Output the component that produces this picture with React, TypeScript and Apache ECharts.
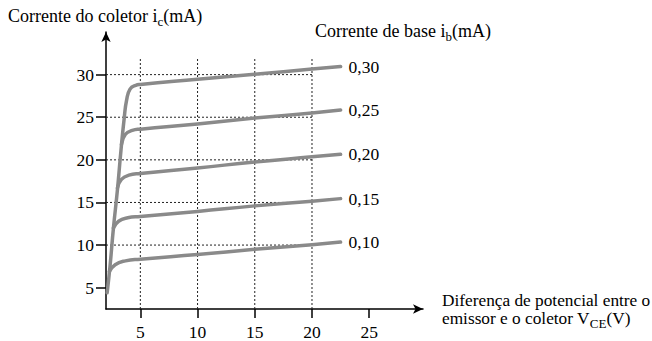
import React, { useEffect, useRef } from "react";
import * as echarts from "echarts";

const xTicks = [5, 10, 15, 20, 25];
const yTicks = [5, 10, 15, 20, 25, 30];
const hGrid = [10, 15, 20, 25, 30];
const vGrid = [5, 10, 15, 20];

const seriesNames = ["0,30", "0,25", "0,20", "0,15", "0,10"];
const curve030 = [[2.1, 4.4], [2.35, 7.5], [2.65, 12], [3.0, 16.5], [3.3, 21], [3.6, 25], [3.8, 27], [4.1, 28.3], [4.6, 28.75], [5, 28.85], [10, 29.45], [15, 30.05], [20, 30.65], [22.5, 30.95]];
const curve025 = [[3.35, 21.8], [3.7, 23.0], [4.3, 23.45], [5, 23.6], [10, 24.2], [15, 24.9], [20, 25.5], [22.5, 25.85]];
const curve020 = [[3.0, 16.7], [3.35, 17.7], [4.0, 18.2], [5, 18.4], [10, 19.05], [15, 19.75], [20, 20.35], [22.5, 20.65]];
const curve015 = [[2.65, 12.0], [3.1, 12.8], [3.9, 13.2], [5, 13.35], [10, 13.95], [15, 14.6], [20, 15.15], [22.5, 15.45]];
const curve010 = [[2.3, 6.9], [2.8, 7.7], [3.7, 8.15], [5, 8.35], [10, 8.9], [15, 9.5], [20, 10.05], [22.5, 10.35]];
const curves = [curve030, curve025, curve020, curve015, curve010];

const X_MIN = 2;
const X_MAX = 29.7;
const Y_MIN = 2.5;
const Y_MAX = 35;
const V_TOP = 32;

const FONT = "Times New Roman";

export default function App() {
  const ref = useRef<HTMLDivElement>(null);
  useEffect(() => {
    if (!ref.current) return;
    const chart = echarts.init(ref.current, null, { renderer: "svg" });
    const gridLineStyle = { color: "#222", width: 1, type: [2, 2] as any };
    const series: any[] = [];
    hGrid.forEach((y) => {
      series.push({
        type: "line", silent: true, symbol: "none", z: 1,
        data: [[X_MIN, y], [20, y]],
        lineStyle: gridLineStyle,
      });
    });
    vGrid.forEach((x) => {
      series.push({
        type: "line", silent: true, symbol: "none", z: 1,
        data: [[x, Y_MIN], [x, V_TOP]],
        lineStyle: gridLineStyle,
      });
    });
    curves.forEach((c, i) => {
      series.push({
        name: seriesNames[i],
        type: "line", silent: true, symbol: "none", z: 3,
        smooth: 0.5,
        data: c,
        lineStyle: { color: "#8a8a8a", width: 3.5, cap: "round", join: "round" },
        endLabel: {
          show: true, formatter: seriesNames[i], distance: 8,
          color: "#000", fontFamily: FONT, fontSize: 17.5,
        },
      });
    });
    const sub = { fontFamily: FONT, fontSize: 13, padding: [10, 0, 0, 0] };
    chart.setOption({
      animation: false,
      backgroundColor: "#fff",
      textStyle: { fontFamily: FONT },
      grid: { left: 106, right: 652 - 423, top: 32, bottom: 341 - 311 },
      xAxis: {
        type: "value", min: X_MIN, max: X_MAX,
        axisLine: { onZero: false, symbol: ["none", "arrow"], symbolSize: [7, 10], lineStyle: { color: "#000", width: 1.5 } },
        axisTick: { show: true, length: 9, customValues: xTicks, lineStyle: { color: "#000", width: 1.5 } },
        axisLabel: { customValues: xTicks, margin: 14, color: "#000", fontFamily: FONT, fontSize: 17.5 },
        splitLine: { show: false },
      },
      yAxis: {
        type: "value", min: Y_MIN, max: Y_MAX,
        axisLine: { onZero: false, symbol: ["none", "arrow"], symbolSize: [7, 10], lineStyle: { color: "#000", width: 1.5 } },
        axisTick: { show: true, length: 10, customValues: yTicks, lineStyle: { color: "#000", width: 1.5 } },
        axisLabel: { customValues: yTicks, margin: 12, color: "#000", fontFamily: FONT, fontSize: 17.5 },
        splitLine: { show: false },
      },
      graphic: [
        { type: "text", left: 8, top: 7, style: { text: "Corrente do coletor i{s|c}(mA)", fontFamily: FONT, fontSize: 18, fill: "#000", rich: { s: sub } } },
        { type: "text", left: 315, top: 22, style: { text: "Corrente de base i{s|b}(mA)", fontFamily: FONT, fontSize: 18, fill: "#000", rich: { s: sub } } },
        { type: "text", left: 442, top: 292, style: { text: "Diferença de potencial entre o", fontFamily: FONT, fontSize: 17.3, fill: "#000" } },
        { type: "text", left: 442, top: 310, style: { text: "emissor e o coletor V{s|CE}(V)", fontFamily: FONT, fontSize: 17.3, fill: "#000", rich: { s: sub } } },
      ],
      series,
    });
    return () => chart.dispose();
  }, []);
  return <div ref={ref} style={{ position: "absolute", left: 0, top: 0, width: 652, height: 341 }} />;
}
